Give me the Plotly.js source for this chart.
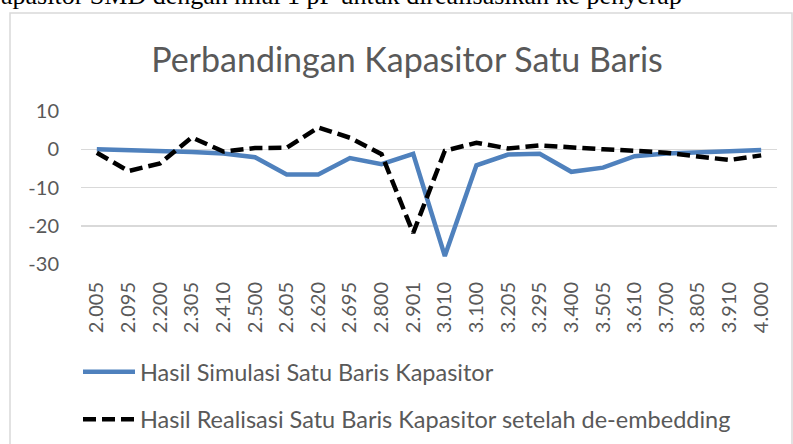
<!DOCTYPE html>
<html>
<head>
<meta charset="utf-8">
<script src="https://cdn.plot.ly/plotly-3.0.1.min.js"></script>
<style>html,body{margin:0;padding:0;background:#fff;}#chart{width:793px;height:444px;}</style>
</head>
<body>
<div id="chart"></div>
<script>
const categories = ["2.005","2.095","2.200","2.305","2.410","2.500","2.605","2.620","2.695","2.800","2.901","3.010","3.100","3.205","3.295","3.400","3.505","3.610","3.700","3.805","3.910","4.000"];
const simulasi = [0, -0.2, -0.4, -0.7, -1.1, -2.1, -6.6, -6.6, -2.3, -3.9, -1.2, -27.9, -4.2, -1.4, -1.2, -5.9, -4.8, -1.8, -1.1, -0.7, -0.5, -0.2];
const realisasi = [-0.9, -5.7, -3.7, 3.1, -0.6, 0.3, 0.4, 5.7, 3.0, -1.3, -21.9, -0.4, 1.7, 0.2, 1.0, 0.4, 0.0, -0.4, -0.9, -1.9, -2.8, -1.6];
const yTicks = [10, 0, -10, -20, -30];
const chartTitle = "Perbandingan Kapasitor Satu Baris";
const name1 = "Hasil Simulasi Satu Baris Kapasitor";
const name2 = "Hasil Realisasi Satu Baris Kapasitor setelah de-embedding";
const docText = "apasitor SMD dengan nilai 1 pF untuk direalisasikan ke penyerap";

const W = 793, H = 444;
const L = 81, R = 777, T = 111, B = 264;
const px = x => (x - L) / (R - L);
const py = y => (B - y) / (B - T);
const gray = "#595959";
const font = "Lato, 'Open Sans', sans-serif";

const traces = [
  {x: categories, y: simulasi, type: "scatter", mode: "lines", name: name1,
   legendgroup: "a", line: {color: "#4f81bd", width: 4.5}},
  {x: categories, y: realisasi, type: "scatter", mode: "lines", name: name2,
   legendgroup: "b", line: {color: "#000000", width: 4.5, dash: "13px,6px"}}
];

const layout = {
  width: W, height: H, autosize: false,
  margin: {l: L, r: W - R, t: T, b: H - B, pad: 0},
  paper_bgcolor: "#ffffff", plot_bgcolor: "rgba(0,0,0,0)",
  showlegend: true,
  title: {text: chartTitle, x: px(407), xref: "paper", xanchor: "center",
          y: 1 - 60 / H, yref: "container", yanchor: "middle", automargin: false,
          font: {family: font, size: 34, color: gray}},
  xaxis: {type: "category", range: [-0.5, categories.length - 0.5], showgrid: false, automargin: false,
          zeroline: false, showline: false, ticks: "", tickangle: -90,
          ticklabelstandoff: 13, tickfont: {family: font, size: 20, color: gray}, fixedrange: true},
  yaxis: {range: [-30, 10], tickmode: "array", tickvals: yTicks, ticktext: yTicks.map(String), automargin: false,
          showgrid: true, gridcolor: "#d9d9d9", gridwidth: 1.5, zeroline: false, showline: false,
          ticks: "", ticklabelstandoff: 21, tickfont: {family: font, size: 20, color: gray}, fixedrange: true},
  legend: {xref: "paper", yref: "container", x: px(78), xanchor: "left", y: 1 - 350 / H, yanchor: "top",
           orientation: "v", traceorder: "grouped", tracegroupgap: 14, itemwidth: 52, bgcolor: "rgba(0,0,0,0)",
           font: {family: font, size: 23.5, color: gray}},
  shapes: [
    {type: "rect", xref: "paper", yref: "paper", x0: px(10), x1: px(792), y0: py(13), y1: py(470),
     line: {color: "#d9d9d9", width: 1.5}, fillcolor: "rgba(0,0,0,0)", layer: "below"}
  ],
  annotations: [
    {text: docText, xref: "paper", yref: "paper", x: px(-1), y: py(-5), xanchor: "left", yanchor: "middle",
     showarrow: false, font: {family: "'Liberation Serif', 'Times New Roman', serif", size: 26, color: "#000000"}}
  ]
};

Plotly.newPlot("chart", traces, layout, {displayModeBar: false, staticPlot: true});
</script>
</body>
</html>
